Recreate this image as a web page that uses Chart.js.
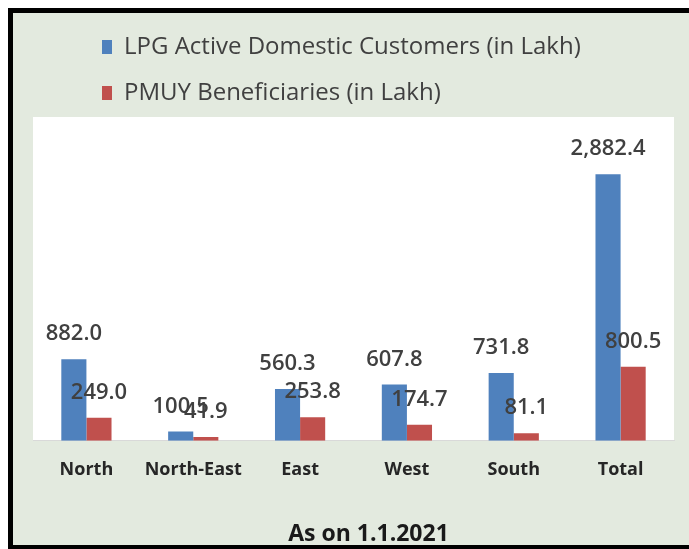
<!DOCTYPE html>
<html>
<head>
<meta charset="utf-8">
<script src="https://cdn.jsdelivr.net/npm/chart.js@4"></script>
<style>
  body { margin: 0; background: #fff; }
  #frame {
    position: absolute; left: 8px; top: 8px;
    width: 676px; height: 532px;
    border-left: 5px solid #000; border-top: 5px solid #000; border-bottom: 4px solid #000;
    background: #e3eadf;
  }
  canvas { display: block; }
</style>
</head>
<body>
<div id="frame"><canvas id="lpg" width="676" height="532"></canvas></div>
<script>
const categories = ["North", "North-East", "East", "West", "South", "Total"];
const lpgCustomers = [882.0, 100.5, 560.3, 607.8, 731.8, 2882.4];
const pmuyBeneficiaries = [249.0, 41.9, 253.8, 174.7, 81.1, 800.5];

// white plot background
const plotBg = {
  id: "plotBg",
  beforeDraw(chart) {
    const { ctx, chartArea: a } = chart;
    ctx.save();
    ctx.fillStyle = "#fff";
    ctx.fillRect(a.left, a.top, a.right - a.left, a.bottom - a.top);
    ctx.restore();
  },
};

// nudge legend and title to where the original sits
const shiftBoxes = {
  id: "shiftBoxes",
  afterLayout(chart) {
    chart.legend.left += 47;
    chart.legend.top -= 2;
    chart.titleBlock.left += 15;
    chart.titleBlock.right += 15;
    chart.titleBlock.top += 3;
    chart.titleBlock.bottom += 3;
  },
};

// value labels above each bar
const barLabels = {
  id: "barLabels",
  afterDatasetsDraw(chart) {
    const ctx = chart.ctx;
    ctx.save();
    ctx.font = '600 22px "Open Sans"';
    ctx.fillStyle = "#404040";
    ctx.textAlign = "center";
    ctx.textBaseline = "alphabetic";
    chart.data.datasets.forEach((ds, i) => {
      chart.getDatasetMeta(i).data.forEach((bar, j) => {
        const txt = ds.data[j].toLocaleString("en-US", { minimumFractionDigits: 1, maximumFractionDigits: 1 });
        ctx.fillText(txt, bar.x, bar.y - 19);
      });
    });
    ctx.restore();
  },
};

new Chart(document.getElementById("lpg"), {
  type: "bar",
  data: {
    labels: categories,
    datasets: [
      { label: "LPG Active Domestic Customers (in Lakh)", data: lpgCustomers, backgroundColor: "#4f81bd" },
      { label: "PMUY Beneficiaries (in Lakh)", data: pmuyBeneficiaries, backgroundColor: "#c0504d" },
    ],
  },
  options: {
    responsive: false,
    animation: false,
    devicePixelRatio: 1,
    categoryPercentage: 0.47,
    barPercentage: 1.0,
    layout: { padding: { left: 20, right: 15, top: 2, bottom: 0 } },
    scales: {
      x: {
        grid: { display: false },
        border: { display: true, color: "#d9d9d9", width: 1 },
        ticks: { color: "#262626", font: { family: "Open Sans", size: 18, weight: "bold" }, padding: 10 },
      },
      y: { display: false, min: 0, max: 3500 },
    },
    plugins: {
      legend: {
        position: "top",
        align: "start",
        labels: {
          boxWidth: 10,
          boxHeight: 14,
          padding: 22,
          color: "#404040",
          font: { family: "Open Sans", size: 24 },
        },
      },
      title: {
        display: true,
        text: "As on 1.1.2021",
        position: "bottom",
        color: "#1a1a1a",
        font: { family: "Open Sans", size: 23, weight: "bold" },
        padding: { top: 27, bottom: 0 },
      },
      tooltip: { enabled: false },
    },
  },
  plugins: [plotBg, shiftBoxes, barLabels],
});
</script>
</body>
</html>
